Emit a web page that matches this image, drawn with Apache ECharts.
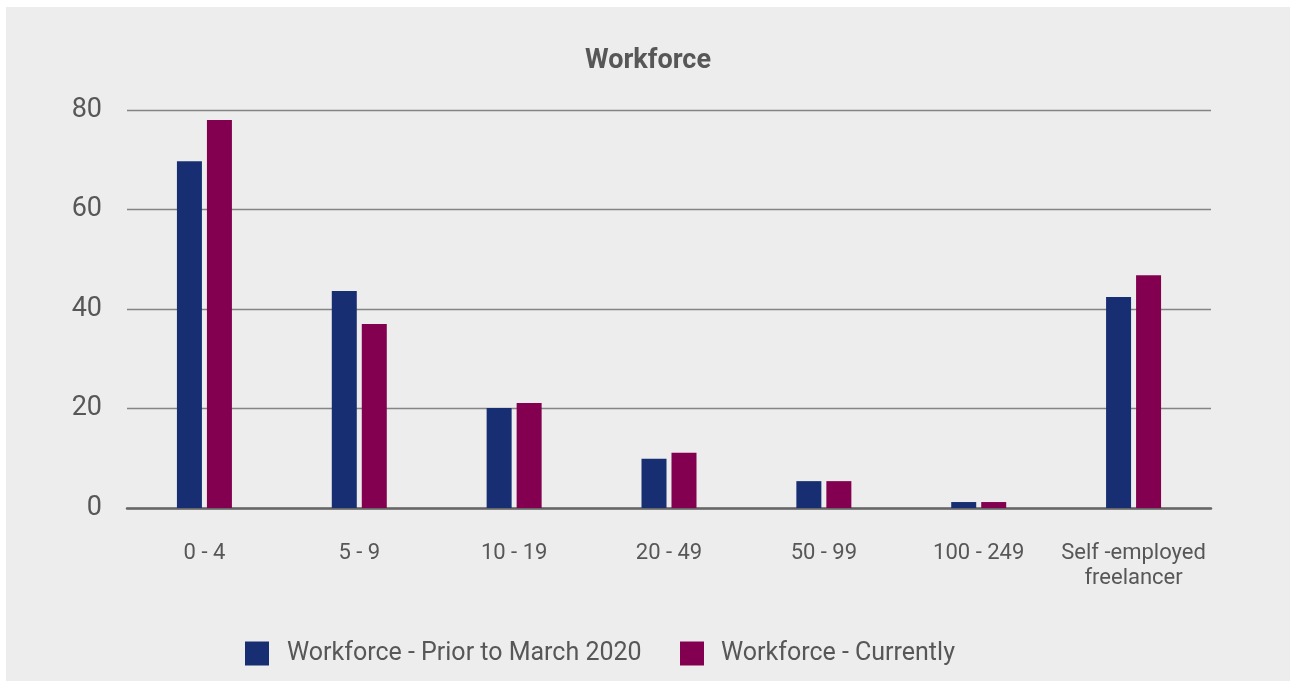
<!DOCTYPE html>
<html>
<head>
<meta charset="utf-8">
<title>Workforce</title>
<script src="https://cdn.jsdelivr.net/npm/echarts@6/dist/echarts.min.js"></script>
<style>
  html, body { margin: 0; padding: 0; background: #ffffff; }
  #chart { position: absolute; left: 6px; top: 7px; width: 1284px; height: 674px; }
</style>
</head>
<body>
<div id="chart"></div>
<script>
// Company size bands
const categories = ['0 - 4', '5 - 9', '10 - 19', '20 - 49', '50 - 99', '100 - 249', 'Self -employed\nfreelancer'];
// Series names
const seriesNames = ['Workforce - Prior to March 2020', 'Workforce - Currently'];
// Values per band
const priorValues = [69.7, 43.6, 20.1, 9.9, 5.4, 1.2, 42.4];
const currentValues = [78, 37, 21.1, 11.1, 5.4, 1.2, 46.8];
// Y axis ticks
const yTicks = [0, 20, 40, 60, 80];

const FONT = 'Roboto, "Noto Sans", sans-serif';
const TEXT = '#575757';
const BLUE = '#172E73';
const MAGENTA = '#82004F';

const chart = echarts.init(document.getElementById('chart'), null, { renderer: 'canvas' });

chart.setOption({
  backgroundColor: '#EDEDED',
  animation: false,
  title: {
    text: 'Workforce',
    left: 'center',
    top: 36,
    textStyle: { fontFamily: FONT, fontSize: 27, fontWeight: 'bold', color: TEXT }
  },
  legend: [
    {
      data: [seriesNames[0]],
      left: 234,
      top: 629,
      itemWidth: 24,
      itemHeight: 24,
      icon: 'rect',
      textStyle: { fontFamily: FONT, fontSize: 25, color: TEXT, padding: [0, 0, 0, 13] }
    },
    {
      data: [seriesNames[1]],
      left: 669,
      top: 629,
      itemWidth: 24,
      itemHeight: 24,
      icon: 'rect',
      textStyle: { fontFamily: FONT, fontSize: 25, color: TEXT, padding: [0, 0, 0, 12] }
    }
  ],
  grid: { left: 121, right: 79, top: 103, bottom: 173, containLabel: false },
  xAxis: {
    type: 'category',
    data: categories,
    axisTick: { show: false },
    axisLine: { show: true, lineStyle: { color: '#666666', width: 2.5 } },
    axisLabel: {
      fontFamily: FONT,
      fontSize: 22,
      lineHeight: 25,
      color: TEXT,
      margin: 33,
      interval: 0
    }
  },
  yAxis: {
    type: 'value',
    min: yTicks[0],
    max: yTicks[yTicks.length - 1],
    interval: yTicks[1] - yTicks[0],
    axisLine: { show: false },
    axisTick: { show: false },
    axisLabel: { fontFamily: FONT, fontSize: 27, color: TEXT, margin: 25 },
    splitLine: { lineStyle: { color: '#858585', width: 1.3 } }
  },
  series: [
    {
      name: seriesNames[0],
      type: 'bar',
      data: priorValues,
      barWidth: 25,
      barGap: '20%',
      itemStyle: { color: BLUE }
    },
    {
      name: seriesNames[1],
      type: 'bar',
      data: currentValues,
      barWidth: 25,
      barGap: '20%',
      itemStyle: { color: MAGENTA }
    }
  ]
});
</script>
</body>
</html>
